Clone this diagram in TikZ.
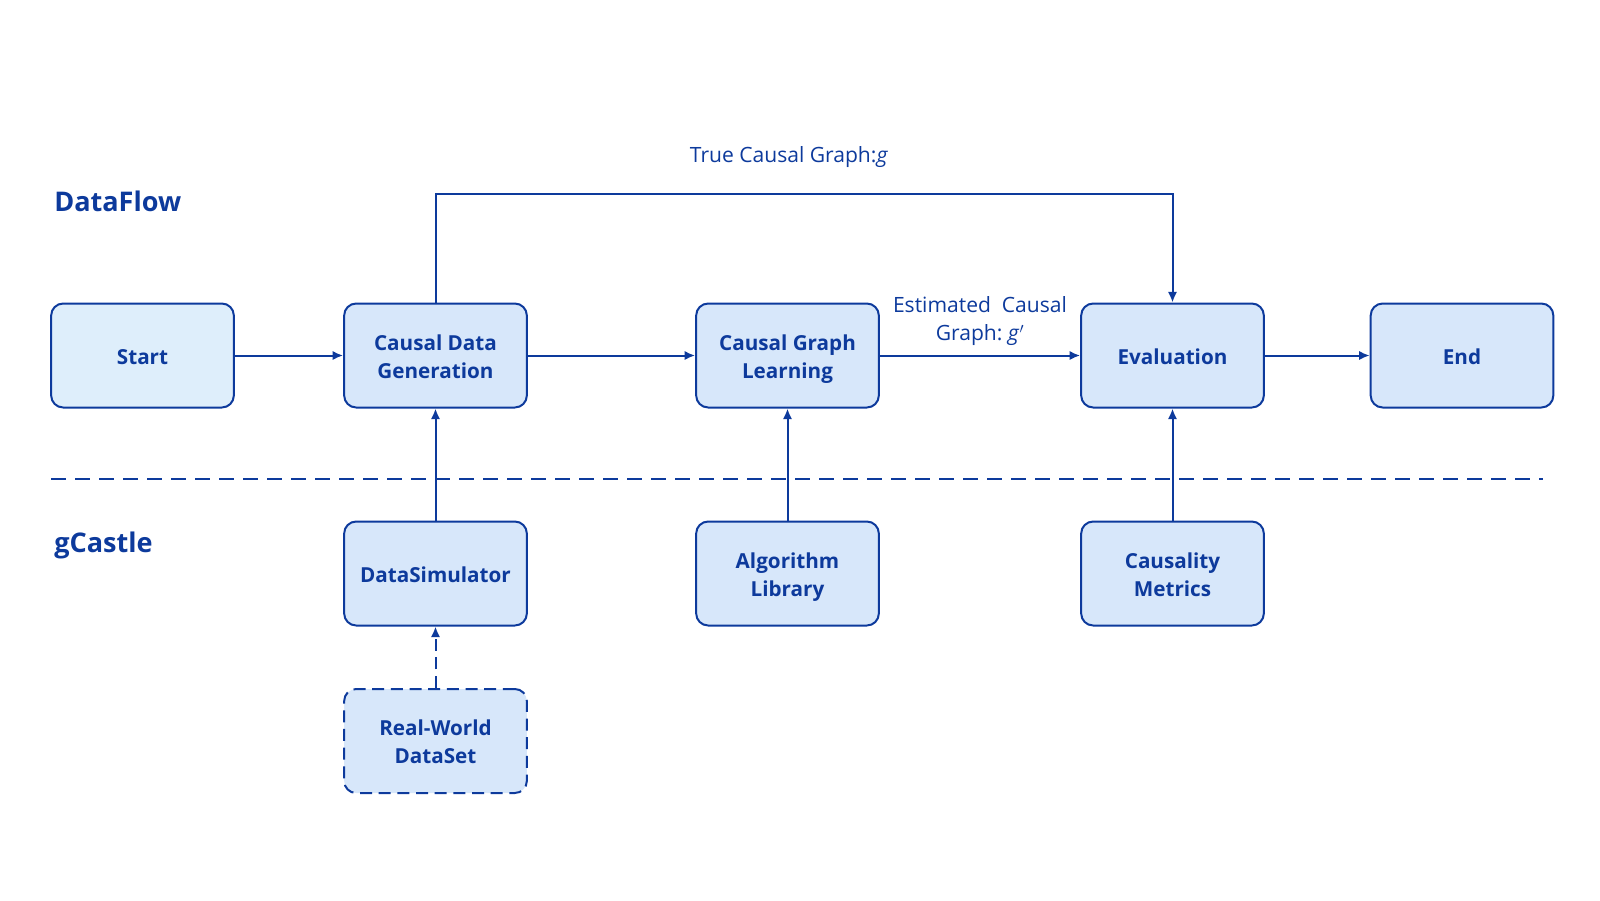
\documentclass[tikz,border=0pt]{standalone}
\usepackage{fontspec}
\setmainfont{Open Sans}
\usetikzlibrary{arrows.meta}
\definecolor{dblue}{HTML}{0D3A9C}
\definecolor{bfill}{HTML}{D7E7FA}
\definecolor{sfill}{HTML}{DEEEFB}
\newcommand{\bxt}[1]{\raisebox{-2.3pt}[\height][\depth]{\begin{tabular}{@{}c@{}}#1\end{tabular}}}
\tikzset{
  box/.style={draw=dblue, fill=bfill, line width=1.5pt, rounded corners=9pt,
    minimum width=137pt, minimum height=78pt, align=center,
    font=\fontsize{15.5}{21}\selectfont\bfseries, text=dblue, inner sep=2pt},
  conn/.style={draw=dblue, line width=1.5pt, -{Latex[length=8pt,width=7pt]}},
  lbl/.style={text=dblue, font=\fontsize{15.8}{21}\selectfont, align=center, inner sep=1pt},
  title/.style={text=dblue, font=\fontsize{20.3}{24}\selectfont\bfseries, anchor=west, inner sep=0pt}
}
\begin{document}
\begin{tikzpicture}[x=0.75pt,y=-0.75pt]
\useasboundingbox (0,0) rectangle (1600,900);
\node[box, fill=sfill] (start) at (142.5,355.5) {\bxt{Start}};
\node[box] (cdg) at (435.5,355.5) {\bxt{Causal Data\\Generation}};
\node[box] (cgl) at (787.5,355.5) {\bxt{Causal Graph\\Learning}};
\node[box] (eval) at (1172.5,355.5) {\bxt{Evaluation}};
\node[box] (end) at (1462,355.5) {\bxt{End}};
\node[box] (sim) at (435.5,573.5) {\bxt{DataSimulator}};
\node[box] (alg) at (787.5,573.5) {\bxt{Algorithm\\Library}};
\node[box] (met) at (1172.5,573.5) {\bxt{Causality\\Metrics}};
\node[box, dashed, dash pattern=on 9pt off 5pt] (real) at (435.5,741) {\bxt{Real-World\\DataSet}};

\node[title] (df) at (54,201) {DataFlow};
\node[title] (gc) at (54,545) {gCastle};

\coordinate (dl1) at (51,479);
\coordinate (dl2) at (1543,479);
\draw[dblue, line width=1.5pt, dash pattern=on 11pt off 7pt] (dl1) -- (dl2);

\draw[conn] (start) -- (cdg);
\draw[conn] (cdg) -- (cgl);
\draw[conn] (cgl) -- node[lbl, above=6pt] {Estimated~~Causal\\Graph:~\textit{g}$'$} (eval);
\draw[conn] (eval) -- (end);
\draw[conn] (sim) -- (cdg);
\draw[conn] (alg) -- (cgl);
\draw[conn] (met) -- (eval);
\draw[conn, dash pattern=on 9pt off 5pt] (real) -- (sim);
\coordinate (t1) at (435.5,194);
\coordinate (t2) at (1172.5,194);
\draw[conn] (cdg.north) -- (t1) -- (t2) -- (eval.north);
\node[lbl] (tcg) at (789,157) {True Causal Graph:\textit{g}};
\end{tikzpicture}
\end{document}
